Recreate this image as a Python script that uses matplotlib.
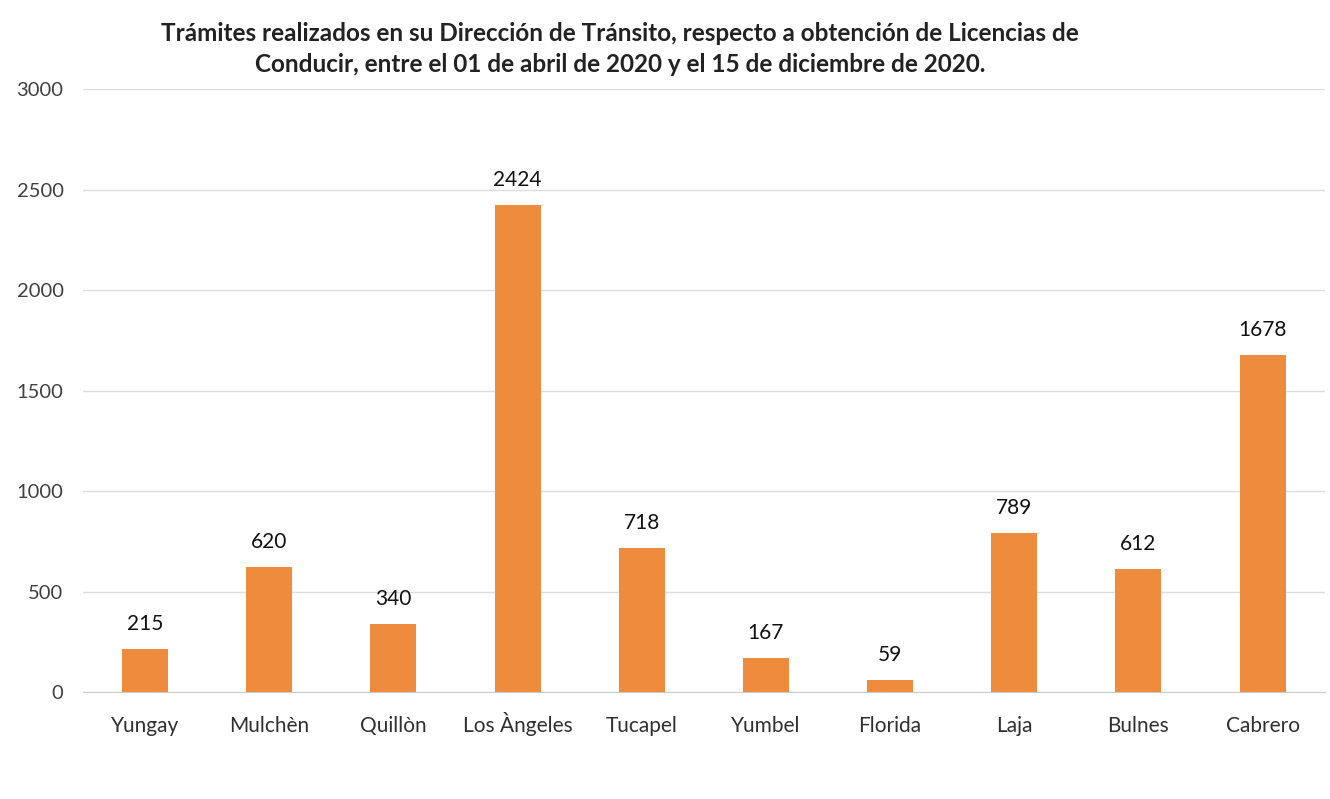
import matplotlib
matplotlib.use("Agg")
import matplotlib.pyplot as plt

categories = ["Yungay", "Mulchèn", "Quillòn", "Los Àngeles", "Tucapel",
              "Yumbel", "Florida", "Laja", "Bulnes", "Cabrero"]
values = [215, 620, 340, 2424, 718, 167, 59, 789, 612, 1678]
yticks = [0, 500, 1000, 1500, 2000, 2500, 3000]
title = ("Trámites realizados en su Dirección de Tránsito, respecto a obtención de Licencias de\n"
         "Conducir, entre el 01 de abril de 2020 y el 15 de diciembre de 2020.")

plt.rcParams['font.family'] = ['Lato', 'DejaVu Sans']

fig = plt.figure(figsize=(13.3, 7.99), dpi=100)
ax = fig.add_axes([0.0624, 0.1339, 0.9336, 0.7547])

x = range(len(categories))
bars = ax.bar(x, values, width=0.37, color="#EE8B3C", zorder=3)
for xi, v in zip(x, values):
    ax.text(xi, v + 75, str(v), ha="center", va="bottom", fontsize=15, color="#111111")

ax.set_xlim(-0.5, len(categories) - 0.5)
ax.set_ylim(0, 3000)
ax.set_yticks(yticks)
ax.set_yticklabels([str(t) for t in yticks], fontsize=14.5, color="#404040")
ax.set_xticks(list(x))
ax.set_xticklabels(categories, fontsize=15, color="#303030", va="baseline")
ax.tick_params(axis="both", length=0)
ax.tick_params(axis="y", pad=14)
ax.tick_params(axis="x", pad=29)
ax.grid(axis="y", color="#DDDDDD", linewidth=1, zorder=0)
for s in ["top", "right", "left"]:
    ax.spines[s].set_visible(False)
ax.spines["bottom"].set_color("#CCCCCC")

fig.text(0.466, 0.939, title, ha="center", va="center", fontsize=17.5,
         fontweight="bold", color="#222222", linespacing=1.4)

fig.savefig("out.png", dpi=100)
